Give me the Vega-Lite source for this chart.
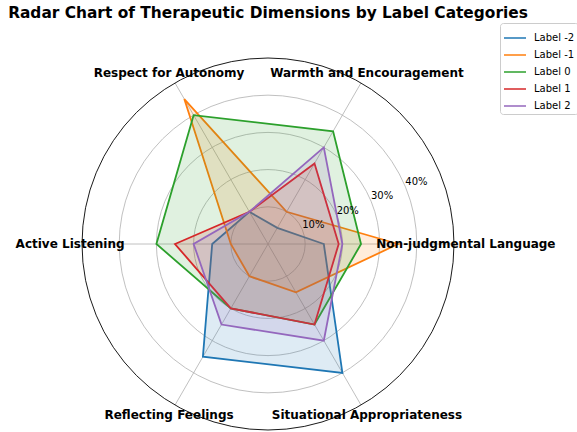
{
  "$schema": "https://vega.github.io/schema/vega-lite/v6.json",
  "width": 372,
  "height": 372,
  "autosize": {"type": "none"},
  "padding": {"left": 82, "top": 58, "right": 123, "bottom": 2},
  "background": "white",
  "title": {"text": "Radar Chart of Therapeutic Dimensions by Label Categories", "font": "DejaVu Sans", "fontSize": 15.4, "fontWeight": "bold", "color": "black", "offset": 1, "anchor": "middle", "frame": "group"},
  "config": {"view": {"stroke": null}, "font": "DejaVu Sans"},
  "datasets": {
    "scores": [
      {"label": "Label -2", "dim": "Non-judgmental Language", "value": 15},
      {"label": "Label -2", "dim": "Warmth and Encouragement", "value": 5},
      {"label": "Label -2", "dim": "Respect for Autonomy", "value": 10},
      {"label": "Label -2", "dim": "Active Listening", "value": 15},
      {"label": "Label -2", "dim": "Reflecting Feelings", "value": 35},
      {"label": "Label -2", "dim": "Situational Appropriateness", "value": 40},
      {"label": "Label -1", "dim": "Non-judgmental Language", "value": 35},
      {"label": "Label -1", "dim": "Warmth and Encouragement", "value": 10},
      {"label": "Label -1", "dim": "Respect for Autonomy", "value": 45},
      {"label": "Label -1", "dim": "Active Listening", "value": 10},
      {"label": "Label -1", "dim": "Reflecting Feelings", "value": 10},
      {"label": "Label -1", "dim": "Situational Appropriateness", "value": 15},
      {"label": "Label 0", "dim": "Non-judgmental Language", "value": 25},
      {"label": "Label 0", "dim": "Warmth and Encouragement", "value": 35},
      {"label": "Label 0", "dim": "Respect for Autonomy", "value": 40},
      {"label": "Label 0", "dim": "Active Listening", "value": 30},
      {"label": "Label 0", "dim": "Reflecting Feelings", "value": 20},
      {"label": "Label 0", "dim": "Situational Appropriateness", "value": 25},
      {"label": "Label 1", "dim": "Non-judgmental Language", "value": 19},
      {"label": "Label 1", "dim": "Warmth and Encouragement", "value": 25},
      {"label": "Label 1", "dim": "Respect for Autonomy", "value": 10},
      {"label": "Label 1", "dim": "Active Listening", "value": 25},
      {"label": "Label 1", "dim": "Reflecting Feelings", "value": 20},
      {"label": "Label 1", "dim": "Situational Appropriateness", "value": 25},
      {"label": "Label 2", "dim": "Non-judgmental Language", "value": 20},
      {"label": "Label 2", "dim": "Warmth and Encouragement", "value": 30},
      {"label": "Label 2", "dim": "Respect for Autonomy", "value": 10},
      {"label": "Label 2", "dim": "Active Listening", "value": 20},
      {"label": "Label 2", "dim": "Reflecting Feelings", "value": 25},
      {"label": "Label 2", "dim": "Situational Appropriateness", "value": 30}
    ],
    "dims": [
      {"dim": "Non-judgmental Language"},
      {"dim": "Warmth and Encouragement"},
      {"dim": "Respect for Autonomy"},
      {"dim": "Active Listening"},
      {"dim": "Reflecting Feelings"},
      {"dim": "Situational Appropriateness"}
    ],
    "rings": [{"v": 10}, {"v": 20}, {"v": 30}, {"v": 40}],
    "outer": [{"v": 50}]
  },
  "layer": [
    {
      "data": {"name": "rings"},
      "transform": [{"calculate": "0", "as": "c"}],
      "mark": {"type": "point", "shape": "circle", "filled": false, "stroke": "#b0b0b0", "strokeWidth": 0.8, "opacity": 1},
      "encoding": {
        "x": {"field": "c", "type": "quantitative", "scale": {"domain": [-50, 50], "nice": false, "zero": false}, "axis": null},
        "y": {"field": "c", "type": "quantitative", "scale": {"domain": [-50, 50], "nice": false, "zero": false}, "axis": null},
        "size": {"field": "v", "type": "quantitative", "scale": {"type": "pow", "exponent": 2, "domain": [0, 50], "range": [0, 138384], "zero": true}, "legend": null}
      }
    },
    {
      "data": {"name": "dims"},
      "transform": [
        {"calculate": "indexof(['Non-judgmental Language','Warmth and Encouragement','Respect for Autonomy','Active Listening','Reflecting Feelings','Situational Appropriateness'], datum.dim) * PI / 3", "as": "a"},
        {"calculate": "0", "as": "c"},
        {"calculate": "50 * cos(datum.a)", "as": "sx"},
        {"calculate": "50 * sin(datum.a)", "as": "sy"}
      ],
      "mark": {"type": "rule", "stroke": "#b0b0b0", "strokeWidth": 0.8},
      "encoding": {
        "x": {"field": "c", "type": "quantitative", "scale": {"domain": [-50, 50], "nice": false, "zero": false}, "axis": null},
        "y": {"field": "c", "type": "quantitative", "scale": {"domain": [-50, 50], "nice": false, "zero": false}, "axis": null},
        "x2": {"field": "sx"},
        "y2": {"field": "sy"}
      }
    },
    {
      "data": {"name": "outer"},
      "transform": [{"calculate": "0", "as": "c"}],
      "mark": {"type": "point", "shape": "circle", "filled": false, "stroke": "black", "strokeWidth": 0.9, "opacity": 1},
      "encoding": {
        "x": {"field": "c", "type": "quantitative", "scale": {"domain": [-50, 50], "nice": false, "zero": false}, "axis": null},
        "y": {"field": "c", "type": "quantitative", "scale": {"domain": [-50, 50], "nice": false, "zero": false}, "axis": null},
        "size": {"field": "v", "type": "quantitative", "scale": {"type": "pow", "exponent": 2, "domain": [0, 50], "range": [0, 138384], "zero": true}, "legend": null}
      }
    },
    {
      "data": {"name": "scores"},
      "transform": [
        {"calculate": "indexof(['Non-judgmental Language','Warmth and Encouragement','Respect for Autonomy','Active Listening','Reflecting Feelings','Situational Appropriateness'], datum.dim) * PI / 3", "as": "a"},
        {"calculate": "datum.value * cos(datum.a)", "as": "px"},
        {"calculate": "datum.value * sin(datum.a)", "as": "py"}
      ],
      "mark": {"type": "line", "interpolate": "linear-closed", "strokeWidth": 1.8, "fillOpacity": 0.15},
      "encoding": {
        "x": {"field": "px", "type": "quantitative", "scale": {"domain": [-50, 50], "nice": false, "zero": false}, "axis": null},
        "y": {"field": "py", "type": "quantitative", "scale": {"domain": [-50, 50], "nice": false, "zero": false}, "axis": null},
        "order": {"field": "a", "type": "quantitative"},
        "color": {"field": "label", "type": "nominal", "scale": {"domain": ["Label -2", "Label -1", "Label 0", "Label 1", "Label 2"], "range": ["#1f77b4", "#ff7f0e", "#2ca02c", "#d62728", "#9467bd"]},
          "legend": {"title": null, "orient": "none", "legendX": 418, "legendY": -35, "symbolType": "stroke", "symbolSize": 484, "symbolStrokeWidth": 1.5, "labelFontSize": 10, "labelFont": "DejaVu Sans", "labelColor": "black", "strokeColor": "#cccccc", "fillColor": "white", "cornerRadius": 3, "padding": 3, "rowPadding": -7, "labelOffset": 7}},
        "fill": {"field": "label", "type": "nominal", "scale": {"domain": ["Label -2", "Label -1", "Label 0", "Label 1", "Label 2"], "range": ["#1f77b4", "#ff7f0e", "#2ca02c", "#d62728", "#9467bd"]}, "legend": null}
      }
    },
    {
      "data": {"name": "rings"},
      "transform": [
        {"calculate": "datum.v * cos(PI / 8)", "as": "lx"},
        {"calculate": "datum.v * sin(PI / 8)", "as": "ly"},
        {"calculate": "datum.v + '%'", "as": "t"}
      ],
      "mark": {"type": "text", "font": "DejaVu Sans", "fontSize": 10, "color": "black", "dx": 11, "dy": -5, "align": "center", "baseline": "middle"},
      "encoding": {
        "x": {"field": "lx", "type": "quantitative", "scale": {"domain": [-50, 50], "nice": false, "zero": false}, "axis": null},
        "y": {"field": "ly", "type": "quantitative", "scale": {"domain": [-50, 50], "nice": false, "zero": false}, "axis": null},
        "text": {"field": "t", "type": "nominal"}
      }
    },
    {
      "data": {"name": "dims"},
      "transform": [
        {"calculate": "indexof(['Non-judgmental Language','Warmth and Encouragement','Respect for Autonomy','Active Listening','Reflecting Feelings','Situational Appropriateness'], datum.dim) * PI / 3", "as": "a"},
        {"calculate": "53.2 * cos(datum.a)", "as": "lx"},
        {"calculate": "53.2 * sin(datum.a)", "as": "ly"}
      ],
      "mark": {"type": "text", "font": "DejaVu Sans", "fontSize": 12, "fontWeight": "bold", "color": "black", "align": "center", "baseline": "middle"},
      "encoding": {
        "x": {"field": "lx", "type": "quantitative", "scale": {"domain": [-50, 50], "nice": false, "zero": false}, "axis": null},
        "y": {"field": "ly", "type": "quantitative", "scale": {"domain": [-50, 50], "nice": false, "zero": false}, "axis": null},
        "text": {"field": "dim", "type": "nominal"}
      }
    }
  ]
}
